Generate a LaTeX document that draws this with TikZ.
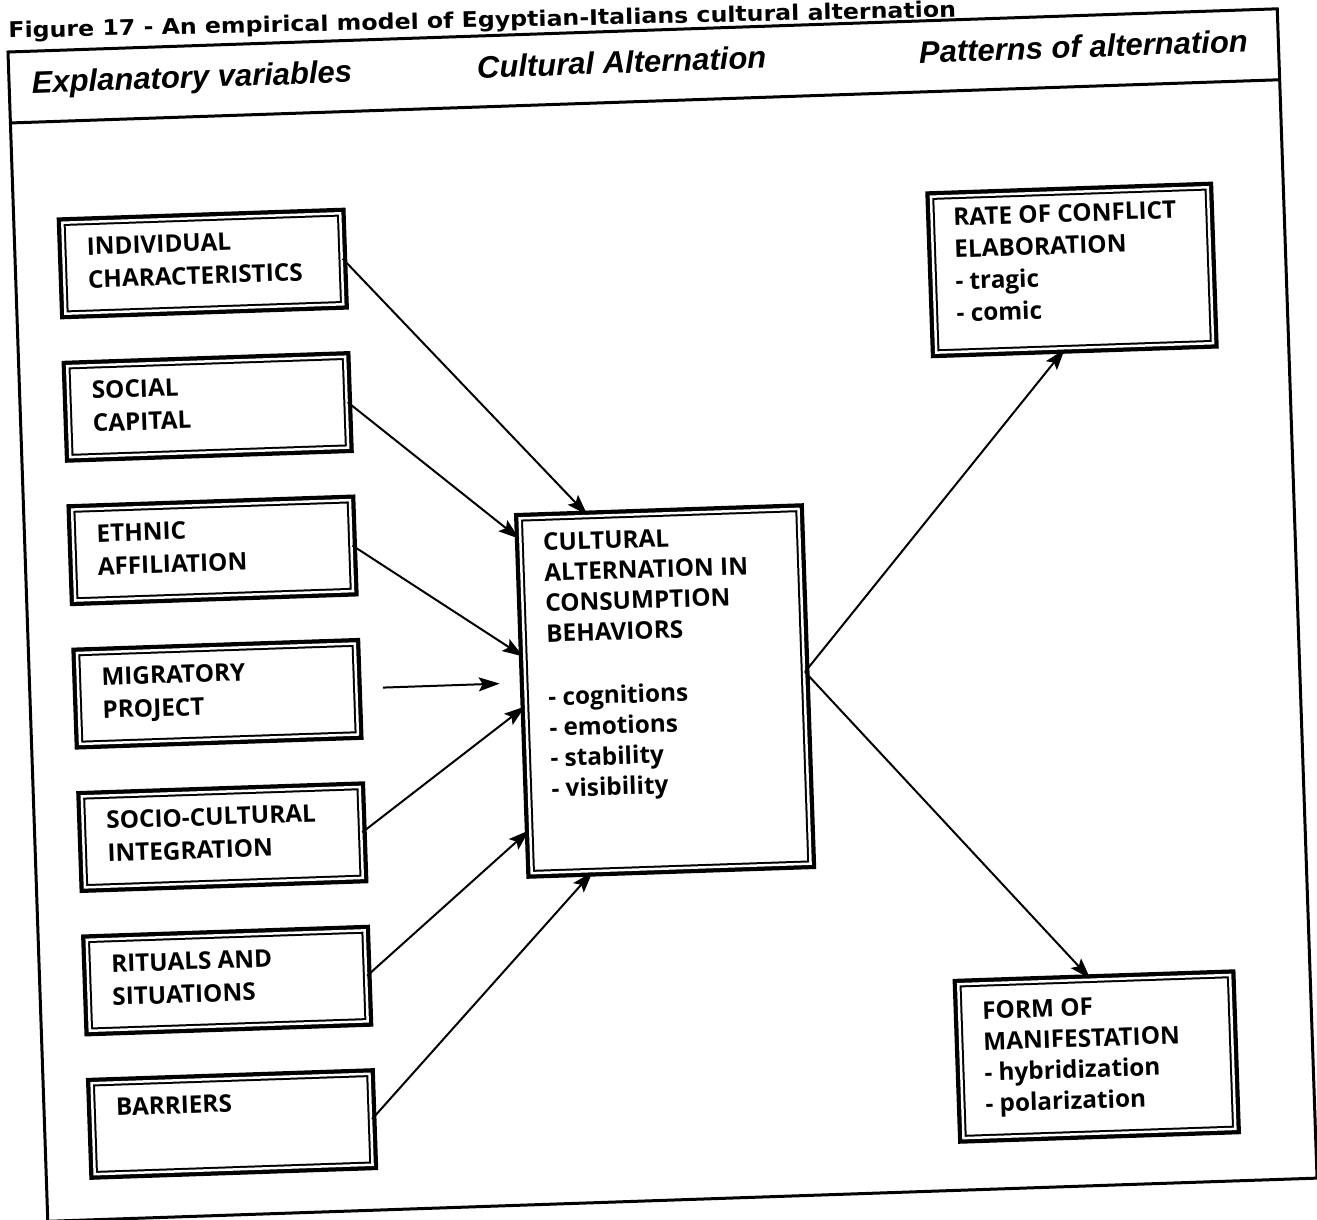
\documentclass[tikz,border=0pt]{standalone}
\usepackage{fontspec}
\setmainfont{Open Sans}
\newfontfamily\headfont{Liberation Sans}
\newfontfamily\titlefont{DejaVu Sans}
\usetikzlibrary{arrows.meta,calc}

\tikzset{
  % double-ruled box: heavy outer rule, thin inner rule
  varbox/.style 2 args={draw=black, fill=white, line width=2pt,
    double=white, double distance=2.5pt,
    preaction={draw=black, line width=11pt},
    inner sep=0pt, minimum width=#1, minimum height=#2},
  boxtext/.style={font=\bfseries\fontsize{24.3}{33}\selectfont, align=left,
    inner sep=0pt, anchor=north west},
  colhead/.style={font=\headfont\bfseries\itshape\fontsize{31}{36}\selectfont,
    inner sep=0pt, anchor=base},
  arr/.style={line width=2pt, -{Stealth[length=21pt,width=14pt,inset=4pt]}},
  frame/.style={line width=3pt}
}

\begin{document}
\begin{tikzpicture}[x=1pt, y=-1pt]
\useasboundingbox (0,0) rectangle (1317,1219);
\fill[white] (0,0) rectangle (1317,1219);

\begin{scope}[shift={(8,52)}, rotate=1.95, transform shape]
  % title above the frame
  \node[font=\titlefont\bfseries\fontsize{21.5}{26}\selectfont, inner sep=0pt,
        anchor=base west, rotate=-0.68] (title) at (1,-14)
    {\scalebox{1.1}[1]{Figure 17 - An empirical model of Egyptian-Italians cultural alternation}};

  % outer frame and column header band
  \draw[frame] (0,0) rectangle (1270,1170);
  \coordinate (hl) at (0,71);
  \coordinate (hr) at (1270,71);
  \draw[frame] (hl) -- (hr);

  \node[colhead] (h1) at (183,42) {Explanatory variables};
  \node[colhead] (h2) at (613,42) {Cultural Alternation};
  \node[colhead] (h3) at (1075,42) {Patterns of alternation};

  % explanatory variables
  \node[varbox={278pt}{91pt}] (b1) at (187.5,218) {};
  \node[varbox={278pt}{91pt}] (b2) at (187.5,361.5) {};
  \node[varbox={278pt}{91pt}] (b3) at (187.5,505) {};
  \node[varbox={278pt}{91pt}] (b4) at (187.5,648.5) {};
  \node[varbox={278pt}{91pt}] (b5) at (187.5,792) {};
  \node[varbox={278pt}{91pt}] (b6) at (187.5,935.5) {};
  \node[varbox={278pt}{91pt}] (b7) at (187.5,1079) {};

  \node[boxtext] (t1) at (72,188) {INDIVIDUAL\\CHARACTERISTICS};
  \node[boxtext] (t2) at (72,331.5) {SOCIAL\\CAPITAL};
  \node[boxtext] (t3) at (72,475) {ETHNIC\\AFFILIATION};
  \node[boxtext] (t4) at (72,618.5) {MIGRATORY\\PROJECT};
  \node[boxtext] (t5) at (72,762) {SOCIO-CULTURAL\\INTEGRATION};
  \node[boxtext] (t6) at (72,905.5) {RITUALS AND\\SITUATIONS};
  \node[boxtext] (t7) at (72,1049) {BARRIERS};

  % cultural alternation
  \node[varbox={279pt}{355pt}] (cab) at (635,661) {};
  \node[boxtext, font=\bfseries\fontsize{24.3}{30.5}\selectfont] (tc) at (518,499)
    {CULTURAL\\ALTERNATION IN\\CONSUMPTION\\BEHAVIORS\\[33pt]
     - cognitions\\- emotions\\- stability\\- visibility};

  % patterns of alternation
  \node[varbox={277pt}{156pt}] (rate) at (1056,254) {};
  \node[boxtext, font=\bfseries\fontsize{24.3}{32}\selectfont] (tr) at (939,188)
    {RATE OF CONFLICT\\ELABORATION\\- tragic\\- comic};
  \node[varbox={272pt}{154pt}] (form) at (1054,1041) {};
  \node[boxtext, font=\bfseries\fontsize{24.3}{31}\selectfont] (tf) at (941,982)
    {FORM OF\\MANIFESTATION\\- hybridization\\- polarization};

  % connectors
  \draw[arr] (b1.east) -- ($(cab.north west)!0.245!(cab.north east)$);
  \draw[arr] (b2.east) -- ($(cab.north west)!0.06!(cab.south west)$);
  \draw[arr] (b3.east) -- ($(cab.north west)!0.39!(cab.south west)$);
  \coordinate (mpa) at (353,648);
  \coordinate (mpb) at (470,648);
  \draw[arr] (mpa) -- (mpb);
  \draw[arr] (b5.east) -- ($(cab.north west)!0.53!(cab.south west)$);
  \draw[arr] (b6.east) -- ($(cab.north west)!0.877!(cab.south west)$);
  \draw[arr] (b7.east) -- ($(cab.south west)!0.22!(cab.south east)$);
  \coordinate (cabout) at ($(cab.north east)!0.46!(cab.south east)$);
  \draw[arr] (cabout) -- ($(rate.south west)!0.464!(rate.south east)$);
  \draw[arr] (cabout) -- ($(form.north west)!0.486!(form.north east)$);
\end{scope}
\end{tikzpicture}
\end{document}
